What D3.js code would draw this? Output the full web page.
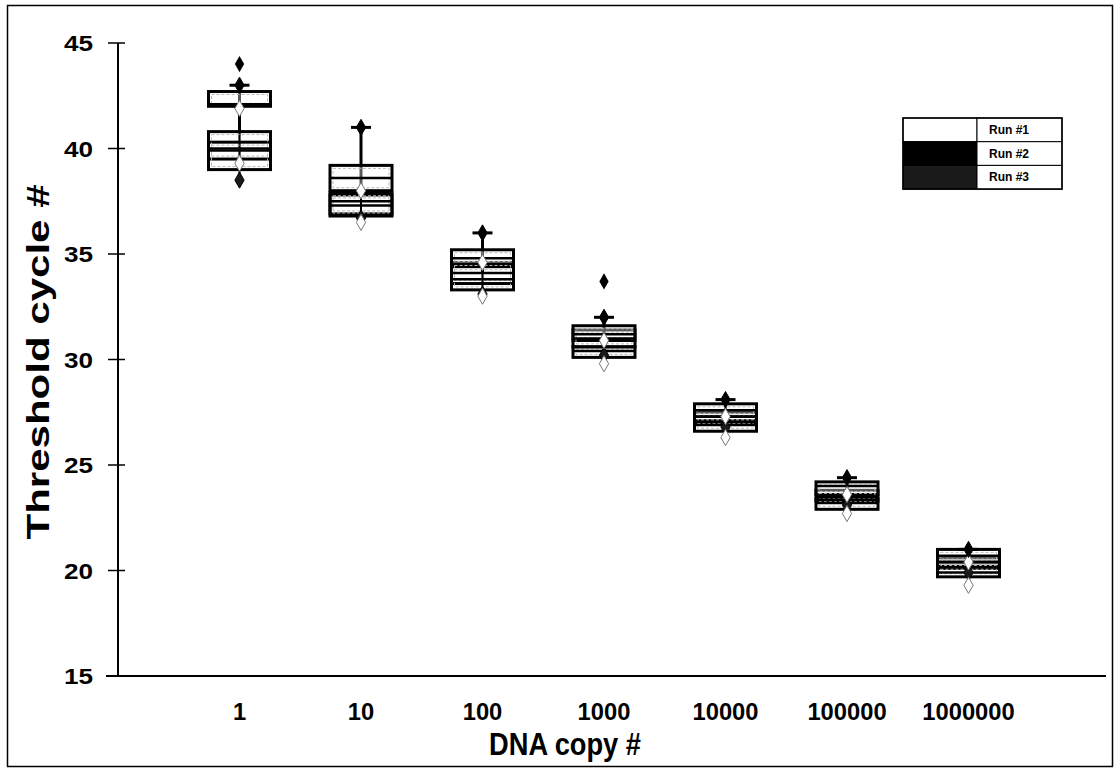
<!DOCTYPE html>
<html>
<head>
<meta charset="utf-8">
<script src="https://cdn.jsdelivr.net/npm/d3@7"></script>
<style>
  body { margin: 0; background: #fff; }
  svg { display: block; font-family: 'Liberation Sans', Arial, sans-serif; }
</style>
</head>
<body>
<script>
const categories = ['1', '10', '100', '1000', '10000', '100000', '1000000']
const runs = ['Run #1', 'Run #2', 'Run #3']
const yTicks = [15, 20, 25, 30, 35, 40, 45]

// Run #1
const run1Low = [39.3, 36.5, 33.0, 29.8, 26.3, 22.7, 19.3]
const run1Q1 = [39.5, 36.8, 33.3, 30.1, 26.6, 22.9, 19.7]
const run1Median = [39.9, 37.3, 33.8, 30.4, 26.9, 23.2, 19.9]
const run1Q3 = [40.3, 37.8, 34.4, 30.6, 27.1, 23.4, 20.2]
const run1High = [41.9, 38.0, 34.6, 30.9, 27.3, 23.6, 20.4]

// Run #2
const run2Low = [40.8, 37.9, 34.1, 30.7, 27.2, 23.5, 20.3]
const run2Q1 = [42.0, 38.0, 34.5, 30.9, 27.3, 23.6, 20.4]
const run2Median = [42.1, 38.6, 34.8, 31.2, 27.6, 24.0, 20.7]
const run2Q3 = [42.7, 39.2, 35.2, 31.6, 27.9, 24.2, 21.0]
const run2High = [43.0, 41.0, 36.0, 32.0, 28.1, 24.4, 21.0]
const run2Outliers = [[0, 44.0], [3, 33.7]]

// Run #3
const run3Low = [38.5, 36.7, 33.1, 30.2, 26.8, 23.1, 19.9]
const run3Q1 = [39.0, 36.9, 33.6, 30.6, 27.0, 23.3, 20.1]
const run3Median = [40.0, 37.5, 34.1, 31.0, 27.3, 23.5, 20.4]
const run3Q3 = [40.8, 37.9, 34.6, 31.4, 27.5, 23.8, 20.6]
const run3High = [40.9, 38.7, 35.0, 31.7, 27.7, 24.0, 20.8]

let width = 1119,
  height = 771

let svg = d3.select('body')
  .append('svg')
  .attr('width', width)
  .attr('height', height)

// outer frame
svg.append('rect')
  .attr('x', 7.5).attr('y', 5.5)
  .attr('width', 1105).attr('height', 761)
  .attr('fill', 'none')
  .attr('stroke', '#000')
  .attr('stroke-width', 1.5)

let x = d3.scalePoint()
  .domain(categories)
  .range([118, 1090])
  .padding(1)

let y = d3.scaleLinear()
  .domain([15, 45])
  .range([676, 43])

let runColor = d3.scaleOrdinal()
  .domain(runs)
  .range(['#fff', '#000', '#1a1a1a'])

let runStats = [
  { run: 'Run #1', low: run1Low, q1: run1Q1, med: run1Median, q3: run1Q3, high: run1High },
  { run: 'Run #2', low: run2Low, q1: run2Q1, med: run2Median, q3: run2Q3, high: run2High },
  { run: 'Run #3', low: run3Low, q1: run3Q1, med: run3Median, q3: run3Q3, high: run3High }
]

let boxes = []
runStats.forEach(s => {
  categories.forEach((c, i) => {
    boxes.push({ run: s.run, cat: c, low: s.low[i], q1: s.q1[i], med: s.med[i], q3: s.q3[i], high: s.high[i] })
  })
})

let boxW = 62
let chart = svg.append('g')

// whiskers
chart.selectAll('line.whisker')
  .data(boxes)
  .enter()
  .append('line')
  .attr('x1', d => x(d.cat))
  .attr('x2', d => x(d.cat))
  .attr('y1', d => y(d.low))
  .attr('y2', d => y(d.high))
  .attr('stroke', d => d.run === 'Run #1' ? '#999' : '#000')
  .attr('stroke-width', d => d.run === 'Run #2' ? 3 : 2)

// boxes (drawn run 3, 1, 2 so run 2 sits on top)
let order = ['Run #3', 'Run #1', 'Run #2']
let sorted = boxes.slice().sort((a, b) => order.indexOf(a.run) - order.indexOf(b.run))

chart.selectAll('rect.box')
  .data(sorted)
  .enter()
  .append('rect')
  .attr('x', d => x(d.cat) - boxW / 2)
  .attr('y', d => y(d.q3))
  .attr('width', boxW)
  .attr('height', d => y(d.q1) - y(d.q3))
  .attr('fill', d => d.run === 'Run #2' ? '#fff' : 'none')
  .attr('fill-opacity', 0.35)
  .attr('stroke', '#000')
  .attr('stroke-width', 3)

// inner light line to mimic the printed double edges
chart.selectAll('rect.inner')
  .data(sorted)
  .enter()
  .append('rect')
  .attr('x', d => x(d.cat) - boxW / 2 + 3)
  .attr('y', d => y(d.q3) + 3)
  .attr('width', boxW - 6)
  .attr('height', d => Math.max(0, y(d.q1) - y(d.q3) - 6))
  .attr('fill', 'none')
  .attr('stroke', '#bbb')
  .attr('stroke-width', 1)
  .attr('stroke-dasharray', '3,2')

// medians
chart.selectAll('line.median')
  .data(sorted)
  .enter()
  .append('line')
  .attr('x1', d => x(d.cat) - boxW / 2)
  .attr('x2', d => x(d.cat) + boxW / 2)
  .attr('y1', d => y(d.med))
  .attr('y2', d => y(d.med))
  .attr('stroke', '#000')
  .attr('stroke-width', 2.5)

// cap on the run 2 upper whisker
chart.selectAll('line.cap')
  .data(categories)
  .enter()
  .append('line')
  .attr('x1', c => x(c) - 10)
  .attr('x2', c => x(c) + 10)
  .attr('y1', (c, i) => y(run2High[i]))
  .attr('y2', (c, i) => y(run2High[i]))
  .attr('stroke', '#000')
  .attr('stroke-width', 3)

let diamond = d3.symbol().type(d3.symbolDiamond).size(75)

// end markers: run 3 low, run 1 low, run 2 high
let markers = []
categories.forEach((c, i) => {
  markers.push({ run: 'Run #3', cat: c, v: run3Low[i] })
})
categories.forEach((c, i) => {
  markers.push({ run: 'Run #1', cat: c, v: run1Low[i] })
  markers.push({ run: 'Run #1', cat: c, v: run1High[i] })
})
categories.forEach((c, i) => {
  markers.push({ run: 'Run #2', cat: c, v: run2High[i] })
})

chart.selectAll('path.end')
  .data(markers)
  .enter()
  .append('path')
  .attr('d', diamond)
  .attr('transform', d => `translate(${x(d.cat)}, ${y(d.v)})`)
  .attr('fill', d => runColor(d.run))
  .attr('stroke', d => d.run === 'Run #1' ? '#777' : '#000')
  .attr('stroke-width', 1)

chart.selectAll('path.outlier')
  .data(run2Outliers)
  .enter()
  .append('path')
  .attr('d', diamond)
  .attr('transform', d => `translate(${x(categories[d[0]])}, ${y(d[1])})`)
  .attr('fill', '#000')

// y axis
let yAxis = svg.append('g')
yAxis.append('line')
  .attr('x1', 118).attr('x2', 118)
  .attr('y1', y(15)).attr('y2', y(45))
  .attr('stroke', '#000')
  .attr('stroke-width', 2)

yTicks.forEach(t => {
  yAxis.append('line')
    .attr('x1', 108).attr('x2', 125)
    .attr('y1', y(t)).attr('y2', y(t))
    .attr('stroke', '#000')
    .attr('stroke-width', 1.5)
  yAxis.append('text')
    .attr('x', 93)
    .attr('y', y(t) + 8)
    .attr('text-anchor', 'end')
    .attr('font-size', '22px')
    .attr('font-weight', 'bold')
    .attr('textLength', 29)
    .attr('lengthAdjust', 'spacingAndGlyphs')
    .text(t)
})

// x axis
svg.append('line')
  .attr('x1', 106).attr('x2', 1106)
  .attr('y1', y(15)).attr('y2', y(15))
  .attr('stroke', '#000')
  .attr('stroke-width', 2)

categories.forEach(c => {
  svg.append('text')
    .attr('x', x(c))
    .attr('y', 720)
    .attr('text-anchor', 'middle')
    .attr('font-size', '24px')
    .attr('font-weight', 'bold')
    .attr('textLength', c.length * 13.2)
    .attr('lengthAdjust', 'spacingAndGlyphs')
    .text(c)
})

// axis titles
svg.append('text')
  .attr('x', 565)
  .attr('y', 755)
  .attr('text-anchor', 'middle')
  .attr('font-size', '32px')
  .attr('font-weight', 'bold')
  .attr('textLength', 152)
  .attr('lengthAdjust', 'spacingAndGlyphs')
  .text('DNA copy #')

svg.append('text')
  .attr('transform', 'translate(49, 362) rotate(-90)')
  .attr('text-anchor', 'middle')
  .attr('font-size', '32px')
  .attr('font-weight', 'bold')
  .attr('textLength', 355)
  .attr('lengthAdjust', 'spacingAndGlyphs')
  .text('Threshold cycle #')

// legend
let legend = svg.append('g')
  .attr('transform', 'translate(903, 118)')

let rowH = 23.7
runs.forEach((r, i) => {
  legend.append('rect')
    .attr('x', 0)
    .attr('y', i * rowH)
    .attr('width', 74)
    .attr('height', rowH)
    .attr('fill', runColor(r))
    .attr('stroke', '#000')
    .attr('stroke-width', 1)
  legend.append('rect')
    .attr('x', 74)
    .attr('y', i * rowH)
    .attr('width', 85)
    .attr('height', rowH)
    .attr('fill', '#fff')
    .attr('stroke', '#000')
    .attr('stroke-width', 1)
  legend.append('text')
    .attr('x', 86)
    .attr('y', i * rowH + 16)
    .attr('font-size', '12px')
    .attr('font-weight', 'bold')
    .text(r)
})
legend.append('rect')
  .attr('width', 159)
  .attr('height', rowH * 3)
  .attr('fill', 'none')
  .attr('stroke', '#000')
  .attr('stroke-width', 1.5)
</script>
</body>
</html>
